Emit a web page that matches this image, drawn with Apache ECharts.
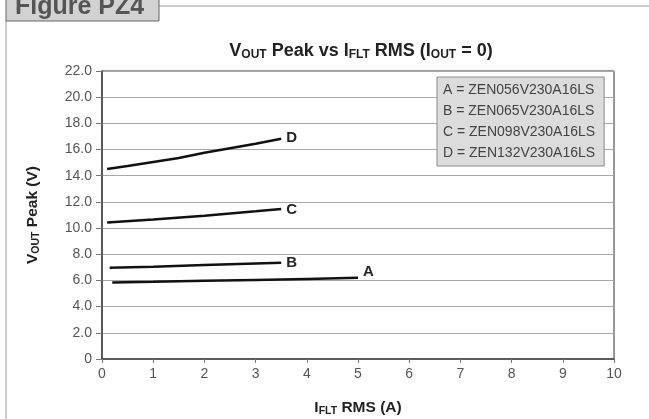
<!DOCTYPE html>
<html>
<head>
<meta charset="utf-8">
<script src="https://cdn.jsdelivr.net/npm/echarts@6/dist/echarts.min.js"></script>
<style>
html,body{margin:0;padding:0;background:#fff;}
#c{width:649px;height:419px;}
</style>
</head>
<body>
<div id="c"></div>
<script>
// ---- data ----
const seriesNames = ['A', 'B', 'C', 'D'];
const partNumbers = ['ZEN056V230A16LS', 'ZEN065V230A16LS', 'ZEN098V230A16LS', 'ZEN132V230A16LS'];
const dataA = [[0.2, 5.85], [1, 5.9], [2, 5.97], [3, 6.04], [4, 6.12], [5, 6.2]];
const dataB = [[0.15, 6.97], [1, 7.05], [2, 7.18], [3, 7.3], [3.5, 7.35]];
const dataC = [[0.1, 10.42], [1, 10.65], [2, 10.95], [3, 11.28], [3.5, 11.45]];
const dataD = [[0.1, 14.52], [0.5, 14.75], [1, 15.05], [1.5, 15.35], [2, 15.75], [2.5, 16.1], [3, 16.45], [3.5, 16.82]];
const xTicks = { min: 0, max: 10, interval: 1 };
const yTicks = { min: 0, max: 22, interval: 2 };
const figureLabel = 'Figure PZ4';

const allData = [dataA, dataB, dataC, dataD];
const labelOffsets = [[0, -6], [0, 0], [0, 1], [0, -1]];
const legendMap = {};
seriesNames.forEach((n, i) => legendMap[n] = n + ' = ' + partNumbers[i]);

const chart = echarts.init(document.getElementById('c'), null, { renderer: 'canvas' });

const subRich = {
  b: { fontSize: 18, fontWeight: 'bold', color: '#222', fontFamily: 'Liberation Sans', lineHeight: 19, verticalAlign: 'top' },
  s: { fontSize: 12, fontWeight: 'bold', color: '#222', fontFamily: 'Liberation Sans', lineHeight: 16, verticalAlign: 'bottom' }
};
const axRich = {
  b: { fontSize: 15.5, fontWeight: 'bold', color: '#222', fontFamily: 'Liberation Sans', lineHeight: 17, verticalAlign: 'top' },
  s: { fontSize: 10.5, fontWeight: 'bold', color: '#222', fontFamily: 'Liberation Sans', lineHeight: 14, verticalAlign: 'bottom' }
};

chart.setOption({
  animation: false,
  backgroundColor: '#fff',
  title: {
    text: '{b|V}{s|OUT}{b| Peak vs I}{s|FLT}{b| RMS (I}{s|OUT}{b| = 0)}',
    left: 356, top: 37, textAlign: 'center',
    textStyle: { rich: subRich }
  },
  legend: {
    data: seriesNames,
    orient: 'vertical',
    left: 437, top: 77,
    icon: 'none',
    itemWidth: 0, itemHeight: 0,
    itemGap: 5,
    padding: [5, 9, 5, 1],
    backgroundColor: '#dcdcdc',
    borderColor: '#8a8a8a',
    borderWidth: 1,
    selectedMode: false,
    formatter: n => legendMap[n],
    textStyle: { fontSize: 14, color: '#444', fontFamily: 'Liberation Sans', lineHeight: 16 }
  },
  grid: {
    left: 102, right: 35, top: 71, bottom: 60,
    outerBoundsMode: 'none', containLabel: false,
    show: true, borderColor: '#333', borderWidth: 1, backgroundColor: 'transparent'
  },
  xAxis: {
    type: 'value', min: xTicks.min, max: xTicks.max, interval: xTicks.interval,
    name: '{b|I}{s|FLT}{b| RMS (A)}',
    nameLocation: 'middle', nameGap: 41,
    nameTextStyle: { rich: axRich },
    axisLine: { show: true, lineStyle: { color: '#444', width: 1.5 } },
    axisTick: { show: true, length: 4, lineStyle: { color: '#777' } },
    axisLabel: { fontSize: 14, color: '#555', fontFamily: 'Liberation Sans', margin: 8 },
    splitLine: { show: false }
  },
  yAxis: {
    type: 'value', min: yTicks.min, max: yTicks.max, interval: yTicks.interval,
    name: '{b|V}{s|OUT}{b| Peak (V)}',
    nameLocation: 'middle', nameGap: 60, nameRotate: 90,
    nameTextStyle: { rich: axRich },
    axisLine: { show: true, lineStyle: { color: '#444', width: 1.5 } },
    axisTick: { show: true, length: 6, lineStyle: { color: '#777' } },
    axisLabel: {
      fontSize: 14, color: '#555', fontFamily: 'Liberation Sans', margin: 10,
      formatter: v => v === 0 ? '0' : v.toFixed(1)
    },
    splitLine: { show: true, lineStyle: { color: '#a8a8a8', width: 1 } }
  },
  series: seriesNames.map((n, i) => ({
    name: n,
    type: 'line',
    data: allData[i],
    showSymbol: false,
    symbol: 'none',
    smooth: false,
    color: '#111',
    lineStyle: { color: '#111', width: 2.5 },
    endLabel: {
      show: true, formatter: '{a}', distance: 5, offset: labelOffsets[i],
      fontSize: 15, fontWeight: 'bold', color: '#222', fontFamily: 'Liberation Sans'
    }
  })),
  graphic: [
    { type: 'line', shape: { x1: 159, y1: 6, x2: 649, y2: 6 }, style: { stroke: '#cccccc', lineWidth: 2 } },
    { type: 'line', shape: { x1: 6, y1: 21, x2: 6, y2: 419 }, style: { stroke: '#cccccc', lineWidth: 2 } },
    { type: 'rect', shape: { x: 6, y: -2, width: 153, height: 23 }, style: { fill: '#d2d2d2', stroke: '#666', lineWidth: 1 } },
    { type: 'text', left: 15, top: -5, style: { text: figureLabel, font: 'bold 25px "Liberation Sans"', fill: '#555' } }
  ]
});
</script>
</body>
</html>
